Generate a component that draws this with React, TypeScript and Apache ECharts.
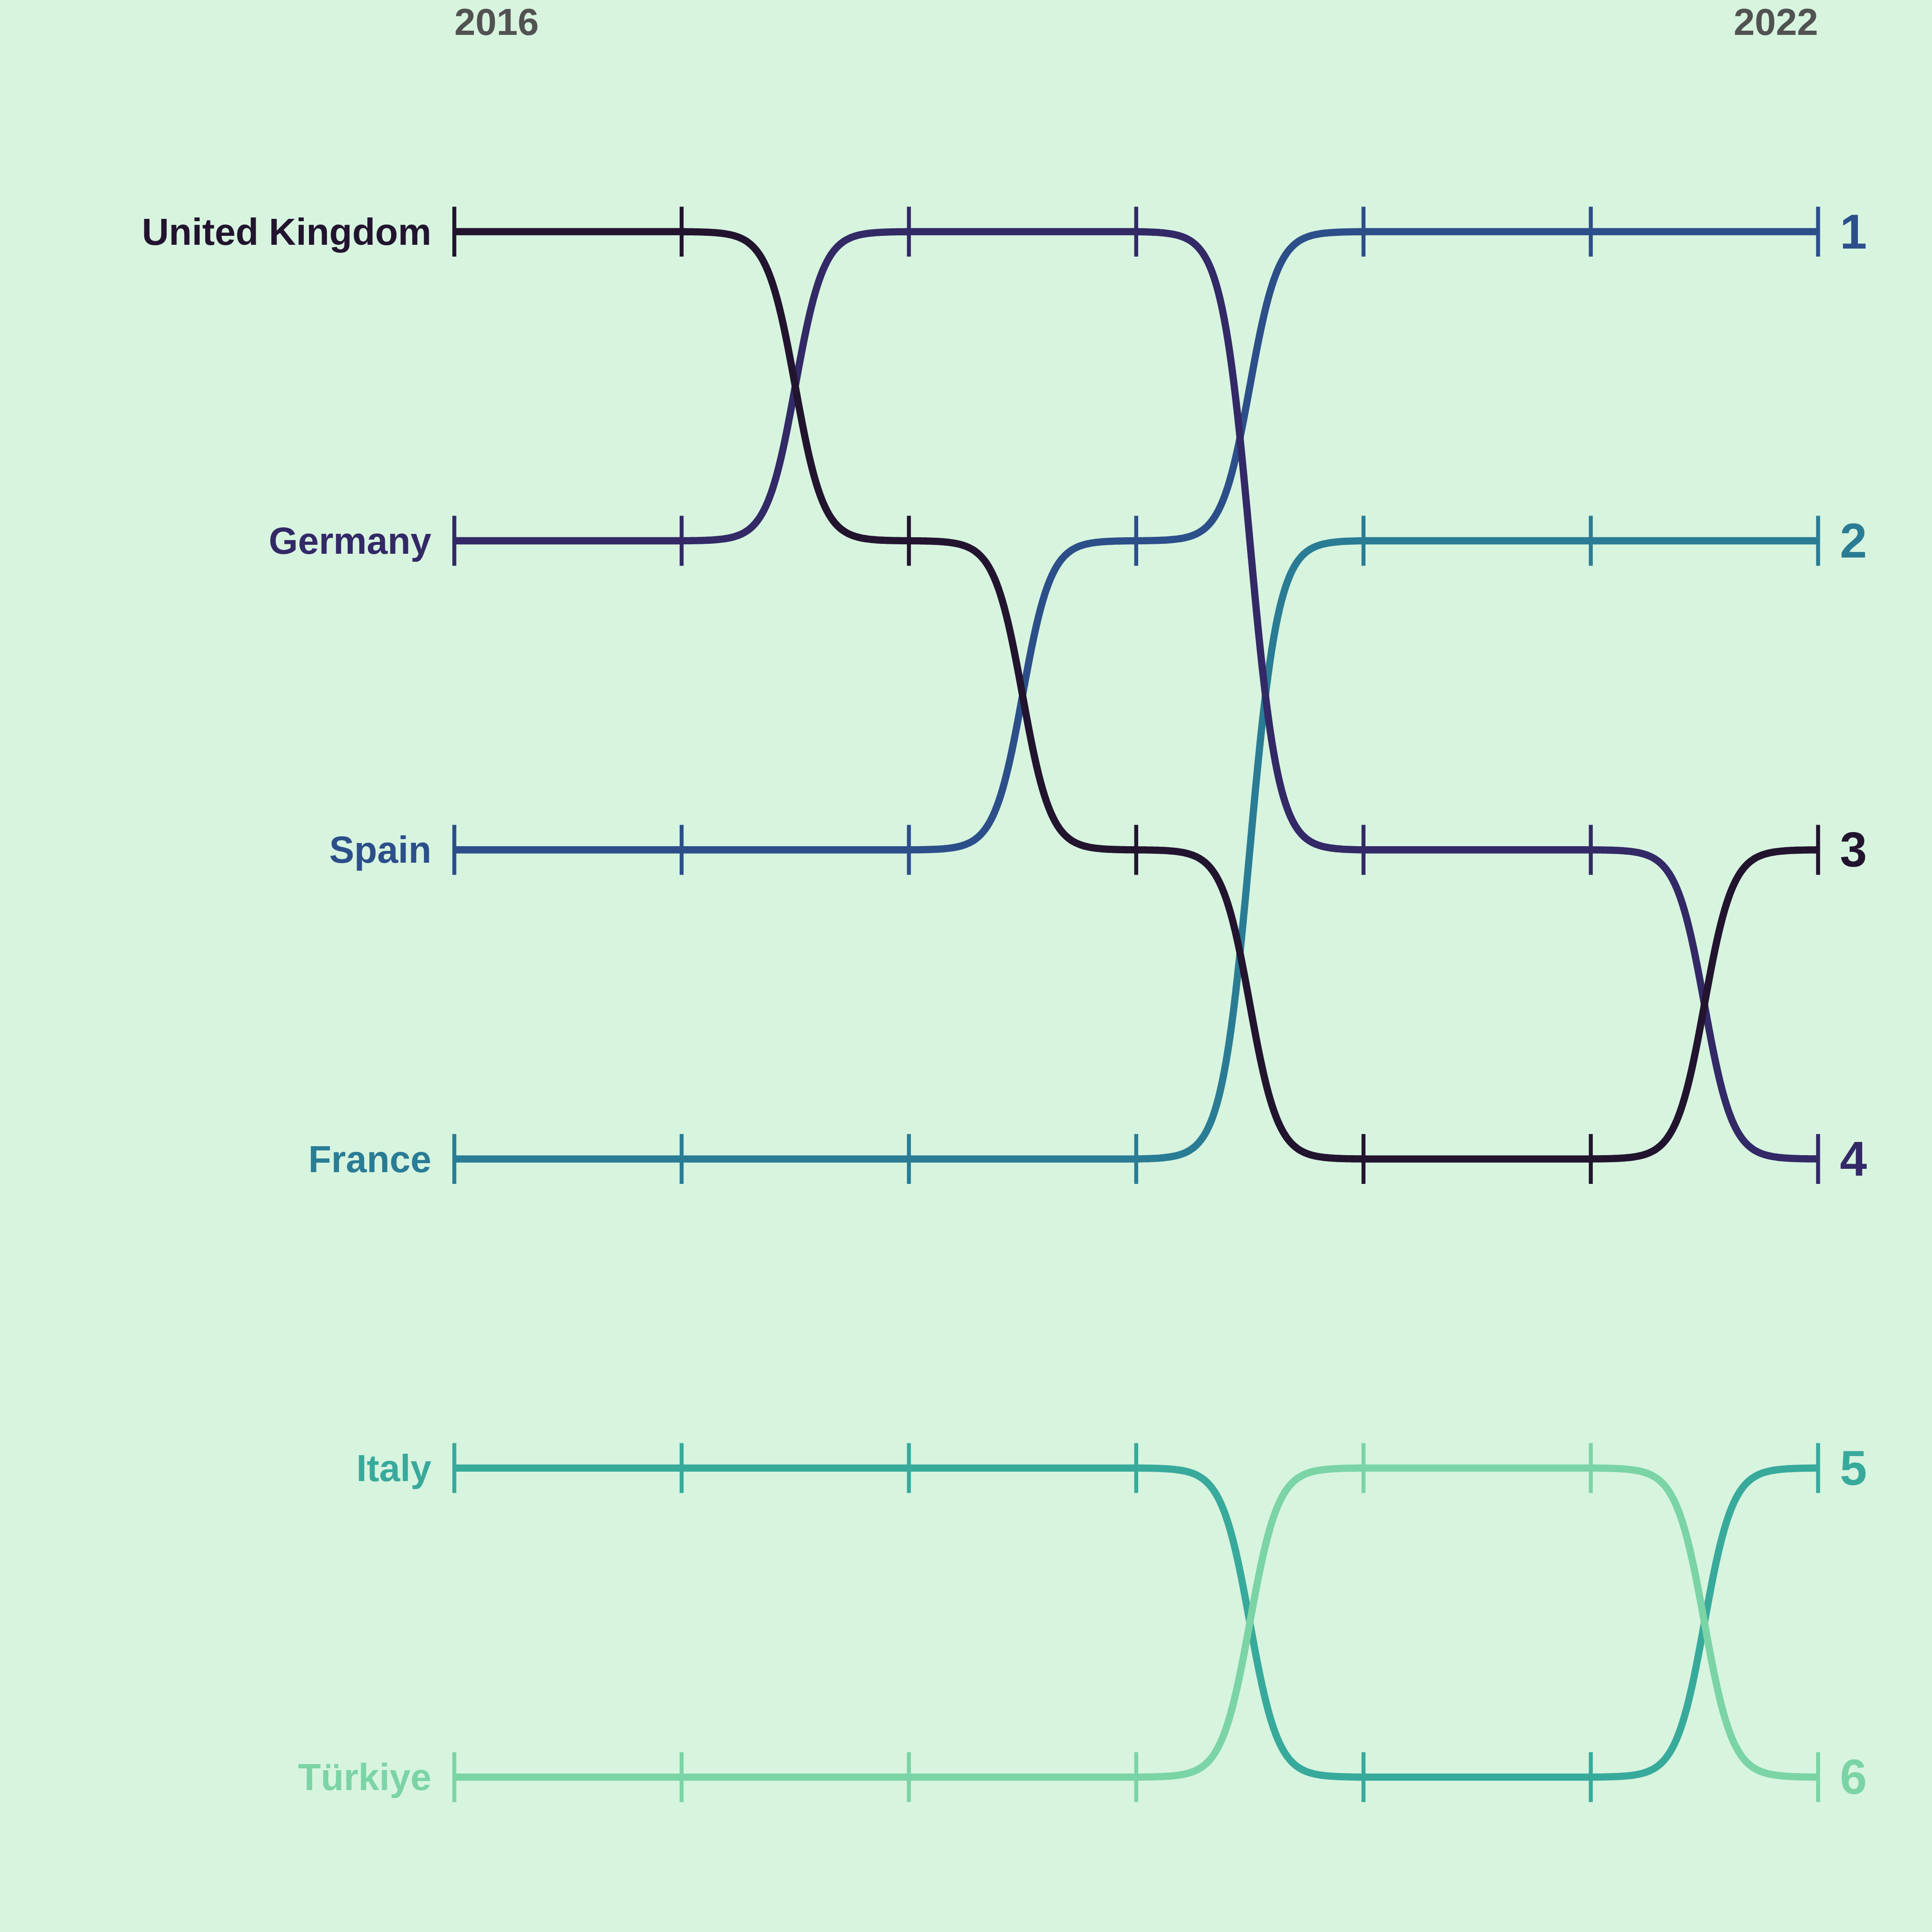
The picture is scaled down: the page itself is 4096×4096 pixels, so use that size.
import React, { useEffect, useRef } from "react";
import * as echarts from "echarts";

// ---- data ----
const years = ["2016", "2017", "2018", "2019", "2020", "2021", "2022"];
const countries = ["United Kingdom", "Germany", "Spain", "France", "Italy", "Türkiye"];
const ukRanks = [1, 1, 2, 3, 4, 4, 3];
const germanyRanks = [2, 2, 1, 1, 3, 3, 4];
const spainRanks = [3, 3, 3, 2, 1, 1, 1];
const franceRanks = [4, 4, 4, 4, 2, 2, 2];
const italyRanks = [5, 5, 5, 5, 6, 6, 5];
const turkiyeRanks = [6, 6, 6, 6, 5, 5, 6];
const rankSets = [ukRanks, germanyRanks, spainRanks, franceRanks, italyRanks, turkiyeRanks];

// ---- style ----
const colors = ["#22142f", "#332966", "#2c4f8a", "#2a7c95", "#38aa9c", "#7bd4a5"];
const zOrder = [6, 5, 2, 1, 3, 4];
const BG = "#d7f4df";
const FONT = "'Liberation Sans', Arial, Helvetica, sans-serif";
const W = 4096;
const H = 4096;
const GRID_LEFT = 963.2;
const GRID_RIGHT = W - 3854.5;
const GRID_TOP = 491.2;
const GRID_BOTTOM = H - 3767.6;
const LINE_W = 15.3;
const TICK_W = 8.4;
const TICK_H = 105.8;
const SMOOTH = 8;
const NAME_SIZE = 79.5;
const RANK_SIZE = 103;
const YEAR_SIZE = 80.5;
const YEAR_LINE_H = 58;
const YEAR_CENTER_Y = 46;

function buildOption() {
  const series: any[] = [];
  rankSets.forEach((ranks, ci) => {
    const color = colors[ci];
    const segs: number[][] = [];
    for (let i = 0; i < ranks.length - 1; i++) {
      segs.push([i, ranks[i], i + 1, ranks[i + 1]]);
    }
    series.push({
      type: "custom",
      name: countries[ci],
      coordinateSystem: "cartesian2d",
      silent: true,
      clip: false,
      z: zOrder[ci],
      encode: { x: [0, 2], y: [1, 3] },
      data: segs,
      renderItem: (params: any, api: any) => {
        const a = api.coord([api.value(0), api.value(1)]);
        const b = api.coord([api.value(2), api.value(3)]);
        const N = 120;
        const s0 = 1 / (1 + Math.exp(SMOOTH));
        const pts: number[][] = [];
        for (let k = 0; k < N; k++) {
          const f = k / (N - 1);
          const t = -SMOOTH + 2 * SMOOTH * f;
          const s = (1 / (1 + Math.exp(-t)) - s0) / (1 - 2 * s0);
          pts.push([a[0] + (b[0] - a[0]) * f, a[1] + (b[1] - a[1]) * s]);
        }
        return {
          type: "polyline",
          shape: { points: pts },
          style: { stroke: color, lineWidth: LINE_W, fill: null, lineJoin: "round" },
        };
      },
    });
    series.push({
      type: "scatter",
      name: countries[ci] + " marks",
      silent: true,
      z: 10 + zOrder[ci],
      symbol: "rect",
      symbolSize: [TICK_W, TICK_H],
      itemStyle: { color, opacity: 1 },
      data: ranks.map((r, i) => {
        const item: any = { value: [i, r] };
        if (i === 0) {
          item.label = {
            show: true,
            position: "left",
            distance: 44.5,
            formatter: countries[ci],
            color,
            fontSize: NAME_SIZE,
            fontWeight: "bold",
            fontFamily: FONT,
          };
        } else if (i === ranks.length - 1) {
          item.label = {
            show: true,
            position: "right",
            distance: 42,
            formatter: String(r),
            color,
            fontSize: RANK_SIZE,
            fontWeight: "bold",
            fontFamily: FONT,
          };
        }
        return item;
      }),
      emphasis: { disabled: true },
    });
  });

  const yearAxis = (which: number, align: string) => ({
    type: "value",
    position: "top",
    min: 0,
    max: years.length - 1,
    interval: 1,
    axisLine: { show: false },
    axisTick: { show: false },
    splitLine: { show: false },
    axisLabel: {
      show: true,
      margin: GRID_TOP - YEAR_CENTER_Y - YEAR_LINE_H / 2,
      align,
      color: "#525252",
      fontSize: YEAR_SIZE,
      fontWeight: "bold",
      fontFamily: FONT,
      lineHeight: YEAR_LINE_H,
      showMinLabel: true,
      showMaxLabel: true,
      formatter: (v: number) => (Math.round(v) === which ? years[which] : ""),
    },
  });

  return {
    animation: false,
    backgroundColor: BG,
    grid: {
      left: GRID_LEFT,
      right: GRID_RIGHT,
      top: GRID_TOP,
      bottom: GRID_BOTTOM,
      containLabel: false,
      outerBoundsMode: "none",
    },
    xAxis: [yearAxis(0, "left"), yearAxis(years.length - 1, "right")],
    yAxis: {
      type: "value",
      inverse: true,
      min: 1,
      max: 6,
      interval: 1,
      show: false,
    },
    series,
  };
}

export default function App() {
  const ref = useRef<HTMLDivElement>(null);
  useEffect(() => {
    if (!ref.current) return;
    const chart = echarts.init(ref.current, undefined, { renderer: "svg", width: W, height: H });
    chart.setOption(buildOption() as any);
    return () => chart.dispose();
  }, []);
  return (
    <div
      ref={ref}
      style={{ position: "fixed", left: 0, top: 0, width: W, height: H, background: BG }}
    />
  );
}
